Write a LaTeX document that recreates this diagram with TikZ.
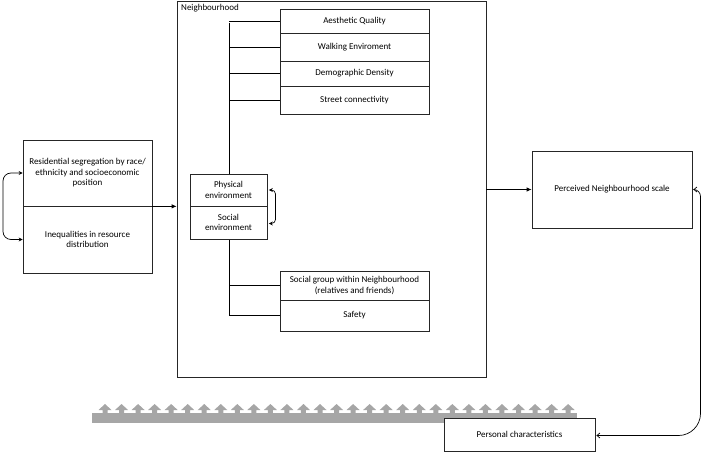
\documentclass[tikz,border=0pt]{standalone}
\usepackage{fontspec}
\setmainfont{Carlito}
\usetikzlibrary{arrows.meta}
\begin{document}
\begin{tikzpicture}[x=1pt,y=-1pt,
  box/.style={draw=black!85,line width=0.7pt,fill=white,rectangle,inner sep=1pt,align=center,
    font=\fontsize{9}{10.6}\selectfont},
  conn/.style={draw=black,line width=0.8pt},
  tipa/.style={-{Latex[length=5pt,width=4.5pt]}},
  dbl/.style={{Stealth[length=4pt,width=4pt]}-{Stealth[length=4pt,width=4pt]}},
  dblo/.style={{Straight Barb[length=3pt,width=5pt]}-{Straight Barb[length=3pt,width=5pt]}}]
\useasboundingbox (0,0) rectangle (703,454);
% gray bar with arrows
\fill[black!35] (92,413) rectangle (577,423);
\foreach \i in {0,...,28}{
  \pgfmathsetmacro{\cx}{105+\i*16.54}
  \fill[black!35] (\cx-2.5,413.5) -- (\cx-2.5,410) -- (\cx-6.5,410) -- (\cx,404) -- (\cx+6.5,410) -- (\cx+2.5,410) -- (\cx+2.5,413.5) -- cycle;
}
% neighbourhood frame
\node[box,minimum width=309pt,minimum height=376pt] (nb) at (331.5,189) {};
\node[anchor=north west,font=\fontsize{9}{10.6}\selectfont,inner sep=0pt] (nbl) at (181,4) {Neighbourhood};
% trunk
\coordinate (tt) at (229,23);
\coordinate (tb) at (229,315.5);
\draw[conn] (tt) -- (tb);
% top boxes
\node[box,minimum width=149pt,minimum height=24pt] (aes) at (354.5,21) {Aesthetic Quality};
\node[box,minimum width=149pt,minimum height=28pt] (walk) at (354.5,47) {Walking Enviroment};
\node[box,minimum width=149pt,minimum height=25pt] (dem) at (354.5,73.5) {Demographic Density};
\node[box,minimum width=149pt,minimum height=28pt] (str) at (354.5,100) {Street connectivity};
% bottom boxes
\node[box,minimum width=149pt,minimum height=29pt] (soc) at (354.5,285.5) {Social group within Neighbourhood\\(relatives and friends)};
\node[box,minimum width=149pt,minimum height=31pt] (saf) at (354.5,315.5) {Safety};
\foreach \n in {aes,walk,dem,str,soc,saf}{
  \draw[conn] (\n.west) -- (\n.west -| tt);
}
% physical / social
\node[box,minimum width=77pt,minimum height=32pt] (phy) at (228.5,190) {Physical\\environment};
\node[box,minimum width=77pt,minimum height=33pt] (sen) at (228.5,222.5) {Social\\environment};
\coordinate (pb) at (275.5,0);
\draw[conn,line width=0.7pt,dbl,rounded corners=4pt] ([xshift=1.5pt]phy.east) -- (phy.east -| pb) -- ([yshift=-1pt]sen.east -| pb) -- ([xshift=1.5pt,yshift=-1pt]sen.east);
% left boxes
\node[box,minimum width=129pt,minimum height=66pt] (res) at (87.5,173) {Residential segregation by race/\\ethnicity and socioeconomic\\position};
\node[box,minimum width=129pt,minimum height=67pt] (ineq) at (87.5,239.5) {Inequalities in resource\\distribution};
\coordinate (lb) at (3,0);
\draw[conn,line width=0.7pt,dbl,rounded corners=8pt] (res.west) -- (res.west -| lb) -- (ineq.west -| lb) -- (ineq.west);
\draw[conn,tipa] (res.south east) -- (res.south east -| nb.west);
% perceived
\node[box,minimum width=160pt,minimum height=77pt] (per) at (612,189.5) {Perceived Neighbourhood scale};
\draw[conn,tipa] (per.west -| nb.east) -- (per.west);
% personal
\node[box,minimum width=151pt,minimum height=33pt] (pc) at (519.5,434.5) {Personal characteristics};
\coordinate (rc) at (700.5,0);
\draw[conn,line width=0.7pt,dblo,rounded corners=7pt] ([xshift=1pt]per.east) -- (per.east -| rc) [rounded corners=22pt] -- ([yshift=-1pt]pc.east -| rc) -- ([xshift=1pt,yshift=-1pt]pc.east);
\end{tikzpicture}
\end{document}
